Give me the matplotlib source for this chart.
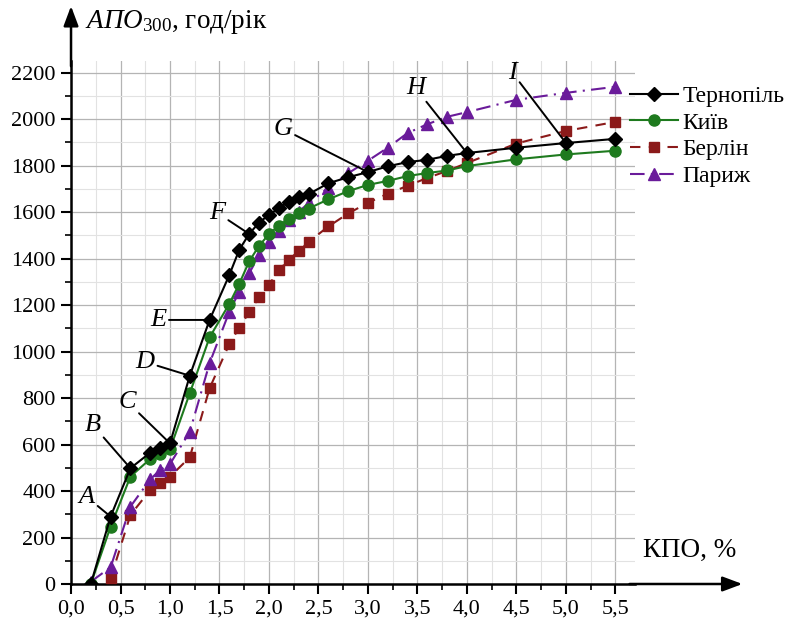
import matplotlib
matplotlib.use("Agg")
import matplotlib.pyplot as plt
from matplotlib.ticker import MultipleLocator, FuncFormatter

plt.rcParams['font.family'] = ['Liberation Serif', 'DejaVu Serif']
plt.rcParams['mathtext.fontset'] = 'custom'
plt.rcParams['mathtext.rm'] = 'Liberation Serif'
plt.rcParams['mathtext.it'] = 'Liberation Serif:italic'

# КПО, % values for the series
kpo_full = [0.2, 0.4, 0.6, 0.8, 0.9, 1.0, 1.2, 1.4, 1.6, 1.7, 1.8, 1.9, 2.0, 2.1,
            2.2, 2.3, 2.4, 2.6, 2.8, 3.0, 3.2, 3.4, 3.6, 3.8, 4.0, 4.5, 5.0, 5.5]
kpo_berlin = kpo_full[1:]

ternopil = [0, 290, 498, 565, 584, 605, 896, 1136, 1330, 1438, 1506, 1555, 1588, 1617,
            1645, 1663, 1677, 1724, 1750, 1772, 1797, 1815, 1825, 1842, 1854, 1877, 1897, 1915]
kyiv = [0, 247, 462, 538, 560, 580, 821, 1061, 1206, 1292, 1388, 1455, 1505, 1542,
        1572, 1597, 1615, 1655, 1690, 1717, 1734, 1755, 1768, 1779, 1798, 1827, 1848, 1864]
berlin = [24, 297, 404, 436, 462, 545, 842, 1033, 1103, 1169, 1234, 1287, 1350,
          1395, 1432, 1472, 1538, 1594, 1640, 1679, 1713, 1747, 1777, 1811, 1895, 1949, 1988]
paris = [10, 72, 333, 450, 491, 516, 655, 950, 1172, 1258, 1337, 1414, 1473, 1519,
         1566, 1602, 1638, 1705, 1767, 1821, 1877, 1940, 1978, 2010, 2030, 2083, 2113, 2139]

labels = ["Тернопіль", "Київ", "Берлін", "Париж"]

# annotation letters: text position and the point the leader line goes to
letters = ["A", "B", "C", "D", "E", "F", "G", "H", "I"]
letter_pos = [(0.16, 374), (0.22, 684), (0.57, 783), (0.75, 955), (0.88, 1136),
              (1.48, 1596), (2.14, 1958), (3.48, 2134), (4.46, 2199)]
letter_target = [(0.4, 290), (0.6, 498), (1.0, 605), (1.2, 896), (1.4, 1136),
                 (1.8, 1506), (3.0, 1772), (4.0, 1854), (5.0, 1897)]

fig = plt.figure(figsize=(7.98, 6.23), dpi=100)
ax = fig.add_axes([0.089, 0.0626, 0.707, 0.8395])

ax.plot(kpo_full, ternopil, color='black', lw=1.5, marker='D', ms=7.5, label=labels[0], zorder=5)
ax.plot(kpo_full, kyiv, color='#1e7a1e', lw=1.5, marker='o', ms=8, label=labels[1], zorder=4)
ax.plot(kpo_berlin, berlin, color='#8b1a1a', lw=1.5, ls=(0, (5, 4)), marker='s', ms=7,
        label=labels[2], zorder=3)
ax.plot(kpo_full, paris, color='#6a1b9a', lw=1.5, ls=(0, (7, 3, 1, 3)), marker='^', ms=9,
        label=labels[3], zorder=3)

for let, (tx, ty), (px, py) in zip(letters, letter_pos, letter_target):
    ax.annotate(let, xy=(px, py), xytext=(tx, ty), fontsize=19, style='italic',
                ha='center', va='center', zorder=6,
                arrowprops=dict(arrowstyle='-', color='black', lw=1.4,
                                shrinkA=0, shrinkB=0))

ax.set_xlim(0, 5.7)
ax.set_ylim(0, 2250)
ax.xaxis.set_major_locator(MultipleLocator(0.5))
ax.xaxis.set_minor_locator(MultipleLocator(0.25))
ax.yaxis.set_major_locator(MultipleLocator(200))
ax.yaxis.set_minor_locator(MultipleLocator(100))
ax.xaxis.set_major_formatter(FuncFormatter(lambda v, p: f"{v:.1f}".replace('.', ',') if v <= 5.5 else ""))
ax.yaxis.set_major_formatter(FuncFormatter(lambda v, p: f"{int(v)}" if v <= 2200 else ""))
ax.grid(which='major', color='#b4b4b4', lw=0.9)
ax.grid(which='minor', color='#e2e2e2', lw=0.8)
ax.set_axisbelow(True)
ax.tick_params(which='major', direction='out', length=7, width=1.5, labelsize=16, pad=4)
ax.tick_params(which='minor', direction='out', length=4, width=1.2)
for s in ['top', 'right']:
    ax.spines[s].set_visible(False)
for s in ['left', 'bottom']:
    ax.spines[s].set_linewidth(1.8)

# axis arrows
ax.annotate('', xy=(1.19, 0), xytext=(0.99, 0), xycoords='axes fraction',
            arrowprops=dict(arrowstyle='-|>,head_length=1.2,head_width=0.45', color='black',
                            lw=1.8, shrinkA=0, shrinkB=0), annotation_clip=False)
ax.annotate('', xy=(0, 1.105), xytext=(0, 0.99), xycoords='axes fraction',
            arrowprops=dict(arrowstyle='-|>,head_length=1.2,head_width=0.45', color='black',
                            lw=1.8, shrinkA=0, shrinkB=0), annotation_clip=False)

fig.text(85 / 798, 1 - 22 / 623, r'$\mathit{АПО}_{300}$, год/рік', fontsize=19.5,
         ha='left', va='center')
fig.text(736 / 798, 1 - 550 / 623, 'КПО, %', fontsize=19.5, ha='right', va='center')

ax.legend(loc='upper left', bbox_to_anchor=(621 / 798, 1 - 76 / 623),
          bbox_transform=fig.transFigure, frameon=False, fontsize=17,
          handlelength=2.0, handletextpad=0.2, labelspacing=0.22, borderaxespad=0)

fig.savefig('out.png', dpi=100)
